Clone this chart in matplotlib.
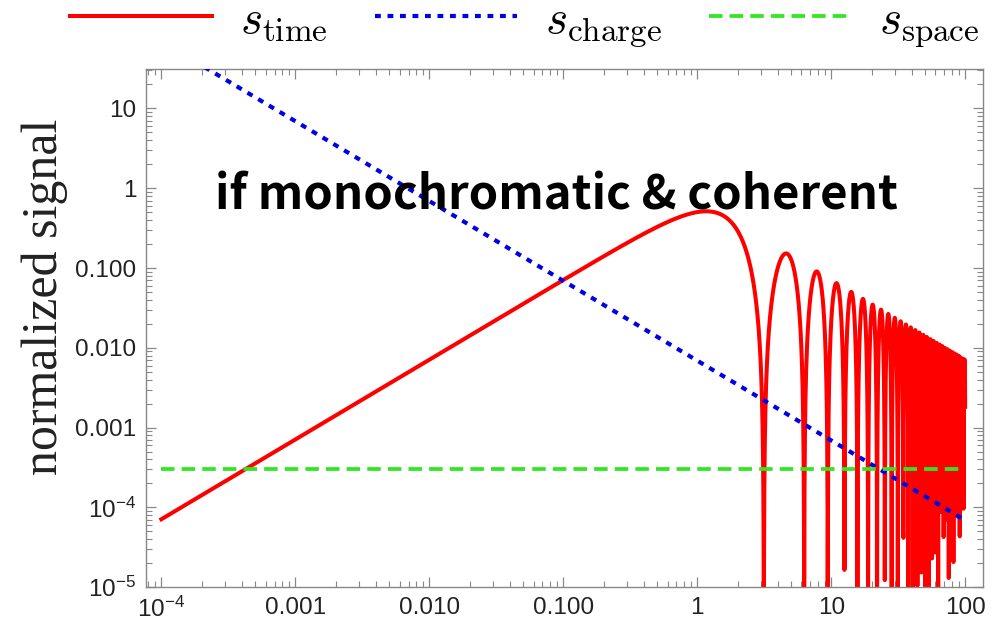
import numpy as np
import matplotlib
matplotlib.use("Agg")
import matplotlib.pyplot as plt
from matplotlib.ticker import FixedLocator, FixedFormatter, LogLocator, NullFormatter

plt.rcParams['mathtext.fontset'] = 'cm'
plt.rcParams['font.family'] = ['Liberation Sans', 'DejaVu Sans']

# values
x_ticks = [1e-4, 1e-3, 1e-2, 1e-1, 1, 10, 100]
x_labels = [r'$\mathregular{10^{-4}}$', '0.001', '0.010', '0.100', '1', '10', '100']
y_ticks = [1e-5, 1e-4, 1e-3, 1e-2, 1e-1, 1, 10]
y_labels = [r'$\mathregular{10^{-5}}$', r'$\mathregular{10^{-4}}$', '0.001', '0.010', '0.100', '1', '10']

# s_time: slope-1 rise, peak ~0.5 near x~1.2, zeros at multiples of pi (sampled curve)
time_amp = 0.71
time_zeros = [np.pi, 2 * np.pi]
time_x = np.sort(np.concatenate([np.logspace(-4, 2, 5000), time_zeros]))
time_y = time_amp * np.sin(time_x) ** 2 / time_x

# s_charge: straight line in log-log (slope -1)
charge_x = [2.1e-4, 100]
charge_y = [33.0, 6.9e-5]

# s_space: flat
space_x = [1e-4, 100]
space_y = [3.0e-4, 3.0e-4]

fig = plt.figure(figsize=(9.94, 6.24), dpi=100)
ax = fig.add_axes([0.147, 0.059, 0.842, 0.830])

ax.plot(time_x, time_y, color='#ff0000', lw=2.9, label=r'$s_{\mathrm{time}}$', zorder=2)
ax.plot(charge_x, charge_y, color='#0000e6', lw=3.0, dashes=(1.4, 1.6),
        label=r'$s_{\mathrm{charge}}$', zorder=3)
ax.plot(space_x, space_y, color='#33e622', lw=2.7, dashes=(3.6, 1.9),
        label=r'$s_{\mathrm{space}}$', zorder=3)

ax.set_xscale('log')
ax.set_yscale('log')
ax.set_xlim(7.7e-5, 136)
ax.set_ylim(1e-5, 31)

for axis, ticks, labels in [(ax.xaxis, x_ticks, x_labels), (ax.yaxis, y_ticks, y_labels)]:
    axis.set_major_locator(FixedLocator(ticks))
    axis.set_major_formatter(FixedFormatter(labels))
    axis.set_minor_locator(LogLocator(base=10, subs=np.arange(2, 10), numticks=20))
    axis.set_minor_formatter(NullFormatter())

ax.tick_params(which='both', direction='in', top=True, right=True, color='#888888')
ax.tick_params(which='major', length=7, width=0.9, labelsize=17.5, labelcolor='#222222', pad=7)
ax.tick_params(which='minor', length=4, width=0.8)
for sp in ax.spines.values():
    sp.set_color('#888888')
    sp.set_linewidth(1.0)

fig.text(0.045, 0.524, 'normalized signal', rotation=90, ha='center', va='center',
         fontsize=36, family='Liberation Serif', color='#222222')

ax.text(0.49, 0.757, 'if monochromatic & coherent', transform=ax.transAxes,
        ha='center', va='center', fontsize=34, fontweight='bold',
        family=['Noto Sans CJK JP', 'DejaVu Sans'], color='black', zorder=5)

fig.legend(loc='center', bbox_to_anchor=(0.528, 0.962), ncol=3, frameon=False,
           fontsize=34, handlelength=3.0, handletextpad=0.6, columnspacing=1.0,
           borderpad=0, borderaxespad=0)

fig.savefig('out.png', dpi=100)
